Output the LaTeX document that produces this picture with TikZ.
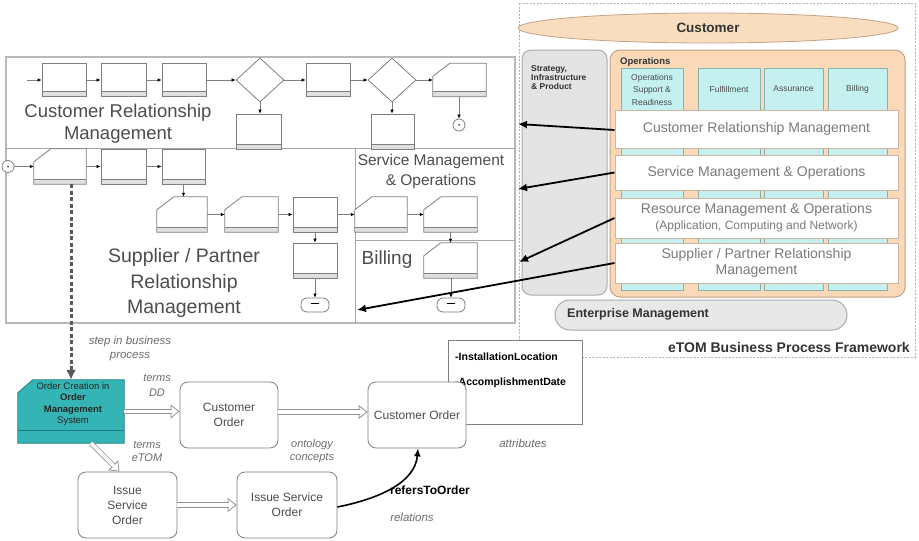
\documentclass[tikz,border=0pt]{standalone}
\usepackage{fontspec}
\setmainfont{Liberation Sans}
\usetikzlibrary{arrows.meta,shapes.geometric,shapes.misc}
\definecolor{lineg}{HTML}{7F7F7F}
\definecolor{txtg}{HTML}{4D4D4D}
\definecolor{bandtx}{HTML}{7A7A7A}
\definecolor{peach}{HTML}{FAD8B8}
\definecolor{peachd}{HTML}{C6A286}
\definecolor{custf}{HTML}{F8DDBE}
\definecolor{cyanf}{HTML}{C4F0F0}
\definecolor{cyand}{HTML}{86B2B2}
\definecolor{stratf}{HTML}{E4E4E4}
\definecolor{tealf}{HTML}{34B4B4}
\definecolor{teald}{HTML}{1E7C7E}
\definecolor{bandd}{HTML}{CDB5A2}
\newcommand{\fs}[2]{\fontsize{#1}{#2}\selectfont}
\tikzset{
  pline/.style={draw=lineg, line width=0.8pt},
  pbox/.style={rectangle, pline, fill=white, inner sep=0pt, minimum width=44pt, minimum height=33pt,
    path picture={\fill[gray!25] (path picture bounding box.south west) rectangle ([yshift=5pt]path picture bounding box.south east);
      \draw[lineg, line width=0.8pt] ([yshift=5pt]path picture bounding box.south west) -- ([yshift=5pt]path picture bounding box.south east);}},
  dia/.style={diamond, pline, fill=white, inner sep=0pt, aspect=1.1, minimum width=48pt, minimum height=44pt},
  conn/.style={draw=lineg, line width=0.6pt, -{Latex[length=4pt,width=3.5pt,color=black]}},
  concirc/.style={circle, pline, fill=white, inner sep=0pt, minimum size=12pt},
  term/.style={rectangle, rounded corners=6pt, pline, fill=white, inner sep=0pt, minimum width=28pt, minimum height=14pt},
  bigtxt/.style={text=txtg, align=center},
  bigarr/.style={draw=black, line width=1.8pt, -{Latex[length=9pt,width=8pt]}},
  band/.style={rectangle, draw=bandd, line width=1pt, fill=white, inner sep=0pt, minimum width=283pt, text=bandtx, align=center, font=\fs{14}{16}},
  col/.style={rectangle, draw=cyand, line width=0.6pt, fill=cyanf, inner sep=0pt, minimum height=222pt},
  coltxt/.style={text=black!70, align=center, font=\fs{8.5}{12.5}},
  obox/.style={rectangle, rounded corners=8pt, draw=lineg, line width=0.8pt, fill=white, inner sep=0pt, minimum width=98pt, minimum height=66pt, text=txtg, align=center, font=\fs{12}{15}},
  dblhead/.style={draw=gray!85, line width=0.8pt, -{Triangle[open, length=9pt, width=14pt]}},
  dblshaft/.style={draw=gray!85, double=white, double distance=3.5pt, line width=0.8pt, shorten >=8pt},
  itl/.style={text=gray!85!black, align=center, font=\itshape\fs{11.5}{14}},
  dasharr/.style={draw=black!65, line width=3pt, dash pattern=on 4pt off 2.5pt, -{Latex[length=10pt,width=10pt]}},
}
\newcommand{\cutbox}[5]{%
  \node[rectangle, inner sep=0pt, minimum width=#4pt, minimum height=#5pt] (#1) at (#2,#3) {};
  \fill[white] ([yshift=-13pt]#1.north west) -- ([xshift=17pt]#1.north west) -- (#1.north east) -- (#1.south east) -- (#1.south west) -- cycle;
  \fill[gray!25] (#1.south west) rectangle ([yshift=5pt]#1.south east);
  \draw[pline] ([yshift=5pt]#1.south west) -- ([yshift=5pt]#1.south east);
  \draw[pline] ([yshift=-13pt]#1.north west) -- ([xshift=17pt]#1.north west) -- (#1.north east) -- (#1.south east) -- (#1.south west) -- cycle;
}
\newcommand{\dblarrow}[2]{%
  \draw[dblhead] #1 -- #2;
  \draw[dblshaft] #1 -- #2;
}
\begin{document}
\begin{tikzpicture}[x=1pt,y=-1pt]
\useasboundingbox (0,0) rectangle (919,541);
\fill[white] (0,0) rectangle (919,541);

% ---------- eTOM framework (right) ----------
\draw[gray!60, line width=0.8pt, dash pattern=on 2pt off 1.5pt] (519,3) rectangle (915,357);
\node[ellipse, draw=peachd, line width=0.8pt, fill=custf, minimum width=380pt, minimum height=30pt, font=\bfseries\fs{13.5}{15}, text=black!80] (cust) at (708,28) {Customer};
\node[rectangle, rounded corners=9pt, draw=gray!65, line width=1pt, fill=stratf, minimum width=85pt, minimum height=245pt] (strat) at (564.5,172.5) {};
\node[anchor=north west, align=left, font=\bfseries\fs{8.5}{9}, text=black!80, inner sep=0pt] (strattxt) at (531,65) {Strategy,\\Infrastructure\\\& Product};
\node[rectangle, rounded corners=10pt, draw=peachd, line width=1pt, fill=peach, minimum width=295pt, minimum height=247pt] (ops) at (757.5,173.5) {};
\node[anchor=west, font=\bfseries\fs{9.5}{10}, text=black!80, inner sep=0pt] (opstxt) at (620,62) {Operations};
\node[col, minimum width=62pt] (col1) at (652,179) {};
\node[col, minimum width=62pt] (col2) at (729,179) {};
\node[col, minimum width=59pt] (col3) at (793.5,179) {};
\node[col, minimum width=59pt] (col4) at (857.5,179) {};
\node[coltxt] (col1t) at (652,89.5) {Operations\\Support \&\\Readiness};
\node[coltxt] (col2t) at (729,89) {Fulfillment};
\node[coltxt] (col3t) at (793.5,89) {Assurance};
\node[coltxt] (col4t) at (857.5,89) {Billing};
\node[band, minimum height=38pt] (bcrm) at (756.5,129) {Customer Relationship Management};
\node[band, minimum height=35pt] (bsmo) at (756.5,172.5) {Service Management \& Operations};
\node[band, minimum height=40pt] (brmo) at (756.5,218) {Resource Management \& Operations\\{\fs{12}{16}(Application, Computing and Network)}};
\node[band, minimum height=40pt] (bspr) at (756.5,263) {Supplier / Partner Relationship\\Management};
\node[rectangle, rounded corners=15pt, draw=gray!65, line width=1pt, fill=gray!18, minimum width=292pt, minimum height=30pt] (ent) at (701,315) {};
\node[anchor=west, font=\bfseries\fs{12.5}{14}, text=black!80, inner sep=0pt] (enttxt) at (567,314) {Enterprise Management};
\node[anchor=east, font=\bfseries\fs{14}{16}, text=black!80, inner sep=0pt] (fw) at (910,347) {eTOM Business Process Framework};

% ---------- left process frame ----------
\draw[gray!55, line width=2pt] (6,57) rectangle (515,323);
\draw[gray!70, line width=1pt] (6,148) -- (515,148);
\draw[gray!70, line width=1pt] (355,148) -- (355,323);
\draw[gray!70, line width=1pt] (355,240) -- (515,240);

\node[bigtxt, font=\fs{18.5}{22}] (crmtxt) at (118,124) {Customer Relationship\\Management};
\node[bigtxt, font=\fs{19.5}{25.5}] (sprtxt) at (184,283) {Supplier / Partner\\Relationship\\Management};
\node[bigtxt, font=\fs{15.5}{20}] (smotxt) at (431,171) {Service Management\\\& Operations};
\node[bigtxt, font=\fs{19}{22}] (billtxt) at (387,260) {Billing};

% row 1
\coordinate (s0) at (27,80);
\node[pbox] (b1) at (64,80) {};
\node[pbox, minimum width=45pt] (b2) at (123.5,80) {};
\node[pbox] (b3) at (184,80) {};
\node[dia] (d1) at (260,80) {};
\node[pbox] (b4) at (328,80) {};
\node[dia] (d2) at (392,80) {};
\cutbox{b5}{459.5}{80}{53}{33}
\node[pbox, minimum width=45pt, minimum height=35pt] (u1) at (259,131.5) {};
\node[pbox, minimum width=43pt, minimum height=35pt] (u2) at (392.5,131.5) {};
\node[concirc] (c1) at (459,125) {};
\fill[black!70] (c1) circle (1pt);
\draw[conn] (s0) -- (b1);
\draw[conn] (b1) -- (b2);
\draw[conn] (b2) -- (b3);
\draw[conn] (b3) -- (d1);
\draw[conn] (d1) -- (b4);
\draw[conn] (b4) -- (d2);
\draw[conn] (d2) -- (b5.west);
\draw[conn] (d1.south) -- (u1.north -| d1.south);
\draw[conn] (d2.south) -- (u2.north -| d2.south);
\draw[conn] (b5.south -| c1) -- (c1.north);

% row 2
\node[concirc] (c2) at (8,166.5) {};
\fill[black!70] (c2) circle (1pt);
\cutbox{a}{60}{166.5}{52}{35}
\node[pbox, minimum width=45pt, minimum height=35pt] (bb) at (123.5,166.5) {};
\node[pbox, minimum width=43pt, minimum height=35pt] (cc) at (183.5,166.5) {};
\draw[conn] (c2) -- (a.west);
\draw[conn] (a) -- (bb);
\draw[conn] (bb) -- (cc);

% row 3
\cutbox{d}{182}{214.5}{50}{35}
\cutbox{e}{251.5}{214.5}{53}{35}
\node[pbox, minimum height=35pt] (f) at (315,214.5) {};
\cutbox{g}{381}{214.5}{52}{35}
\cutbox{h}{450.5}{214.5}{53}{35}
\draw[conn] (cc.south) -- (cc.south |- d.north);
\draw[conn] (d.east) -- (e.west);
\draw[conn] (e.east) -- (f.west);
\draw[conn] (f.east) -- (g.west);
\draw[conn] (g.east) -- (h.west);

% row 4
\node[pbox, minimum height=35pt] (i) at (315,260.5) {};
\cutbox{j}{450.5}{260.5}{53}{35}
\node[term] (t1) at (315,305) {\rule[2.5pt]{8pt}{0.8pt}};
\node[term] (t2) at (451,305) {\rule[2.5pt]{8pt}{0.8pt}};
\draw[conn] (f.south) -- (i.north);
\draw[conn] (h.south) -- (j.north);
\draw[conn] (i.south) -- (t1.north);
\draw[conn] (j.south -| t2) -- (t2.north);

% ---------- arrows from eTOM bands ----------
\coordinate (e1) at (518,124);
\coordinate (e2) at (518,189);
\coordinate (e3) at (519,262);
\coordinate (e4) at (357,310);
\draw[bigarr] ([yshift=-1pt]bcrm.west) -- (e1);
\draw[bigarr] (bsmo.west) -- (e2);
\draw[bigarr] (brmo.west) -- (e3);
\draw[bigarr] (bspr.west) -- (e4);

% ---------- bottom ontology part ----------
\node[rectangle, draw=lineg, line width=0.8pt, fill=white, minimum width=134pt, minimum height=84pt] (attr) at (515,382) {};
\node[anchor=west, font=\bfseries\fs{10.5}{12}, inner sep=0pt] (at1) at (455,357) {-InstallationLocation};
\node[anchor=west, font=\bfseries\fs{10.5}{12}, inner sep=0pt] (at2) at (455,383) {-AccomplishmentDate};

\node[inner sep=0pt, minimum width=106pt, minimum height=63pt] (ord) at (71,411.5) {};
\draw[draw=teald, fill=tealf, line width=0.8pt] ([yshift=-13pt]ord.north west) -- ([xshift=15pt]ord.north west) -- (ord.north east) -- (ord.south east) -- (ord.south west) -- cycle;
\draw[teald, line width=1.2pt] ([yshift=13pt]ord.south west) -- ([yshift=13pt]ord.south east);
\node[align=center, font=\fs{9.5}{11.5}, text=black!85] (ordtxt) at (73,404) {Order Creation in\\\textbf{Order}\\\textbf{Management}\\System};

\node[obox] (co1) at (229,415) {Customer\\Order};
\node[obox] (co2) at (417,415) {Customer Order};
\node[obox, minimum width=99pt] (iso1) at (127.5,505) {Issue\\Service\\Order};
\node[obox, minimum width=100pt] (iso2) at (287,505) {Issue Service\\Order};

\draw[dasharr] ([xshift=11pt]a.south) -- (ord.north);
\dblarrow{(ord.east)}{(ord.east -| co1.west)}
\dblarrow{([yshift=3pt]co1.east)}{([yshift=3pt]co2.west)}
\dblarrow{([xshift=20pt]ord.south)}{([xshift=-8pt]iso1.north)}
\dblarrow{(iso1.east)}{(iso2.west)}
\draw[draw=black, line width=1.6pt, -{Latex[length=8pt,width=7pt]}] ([yshift=-2pt]iso2.east) .. controls +(40,-8) and +(-3,35) .. ([xshift=1pt]co2.south);

\node[itl] (l1) at (130,349) {step in business\\process};
\node[itl, font=\itshape\fs{11}{15}] (l2) at (157,385.5) {terms\\DD};
\node[itl, font=\itshape\fs{11}{13}] (l3) at (147,451.5) {terms\\eTOM};
\node[itl, font=\itshape\fs{11}{13}] (l4) at (312,451.5) {ontology\\concepts};
\node[itl] (l5) at (523,443) {attributes};
\node[itl] (l6) at (412,517) {relations};
\node[font=\bfseries\fs{12}{14}] (rel) at (430,490) {refersToOrder};
\end{tikzpicture}
\end{document}
